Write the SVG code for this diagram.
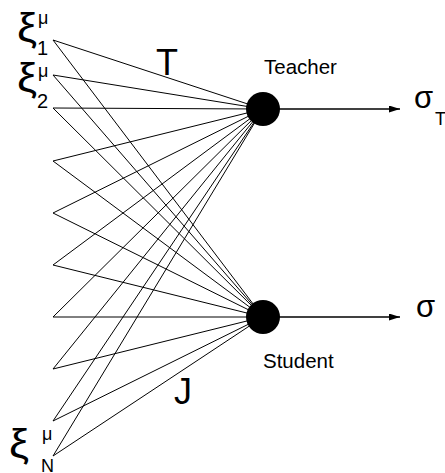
<svg xmlns="http://www.w3.org/2000/svg" width="445" height="473" viewBox="0 0 445 473">
<style>
.c{stroke:#000;stroke-width:1;fill:none}
.t{font-family:"Liberation Sans",Arial,sans-serif;fill:#000}
.x{font-family:"Liberation Sans",Arial,sans-serif;fill:#000;font-size:40px}
</style>
<defs>
<marker id="ah" markerWidth="11" markerHeight="7" refX="11" refY="3.5" orient="auto" markerUnits="userSpaceOnUse">
<path d="M0,0 L11,3.5 L0,7 z" fill="#000"/>
</marker>
</defs>
<rect width="445" height="473" fill="#fff"/>
<g id="connectors">
<path class="c" d="M53,40L263,109M53,40L263,317M53,75L263,109M53,75L263,317M53,108L263,109M53,108L263,317M53,161L263,109M53,161L263,317M53,213L263,109M53,213L263,317M53,265L263,109M53,265L263,317M53,317L263,109M53,317L263,317M53,369L263,109M53,369L263,317M53,421L263,109M53,421L263,317M53,456L263,109M53,456L263,317"/>
<line x1="263" y1="109" x2="400" y2="109" stroke="#000" stroke-width="1.5" marker-end="url(#ah)"/>
<line x1="263" y1="317" x2="400" y2="317" stroke="#000" stroke-width="1.5" marker-end="url(#ah)"/>
</g>
<g id="teacher">
<circle cx="263" cy="109" r="17" fill="#000"/>
<text class="t" x="264" y="74" font-size="20.5">Teacher</text>
</g>
<g id="student">
<circle cx="263" cy="317" r="17" fill="#000"/>
<text class="t" x="263" y="368" font-size="20.5">Student</text>
</g>
<g id="sigmaT">
<text class="t" x="414" y="108" font-size="31">σ</text>
<text class="t" x="435" y="125" font-size="18">T</text>
</g>
<g id="sigma">
<text class="t" x="416" y="317" font-size="31">σ</text>
</g>
<g id="labels">
<text class="t" x="156" y="75" font-size="36">T</text>
<text class="t" x="174" y="404" font-size="36">J</text>
</g>
<g id="xi1">
<text class="x" transform="translate(17,42) scale(1.12,1)">ξ</text>
<text class="t" x="38" y="24" font-size="18">μ</text>
<text class="t" x="37" y="55" font-size="20">1</text>
</g>
<g id="xi2">
<text class="x" transform="translate(17,92) scale(1.12,1)">ξ</text>
<text class="t" x="38" y="77" font-size="18">μ</text>
<text class="t" x="37" y="108" font-size="20">2</text>
</g>
<g id="xiN">
<text class="x" transform="translate(9,458) scale(1.12,1)">ξ</text>
<text class="t" x="42" y="440" font-size="18">μ</text>
<text class="t" x="41" y="472" font-size="18">N</text>
</g>
</svg>
